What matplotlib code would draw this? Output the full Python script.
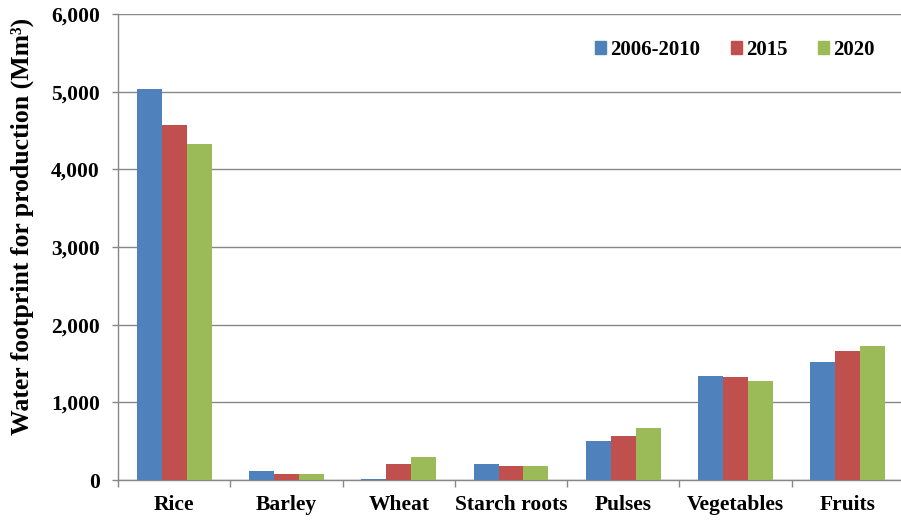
import matplotlib

matplotlib.use("Agg")
import matplotlib.pyplot as plt
import numpy as np
from matplotlib.patches import Patch
from matplotlib.ticker import FuncFormatter

crops = ["Rice", "Barley", "Wheat", "Starch roots", "Pulses", "Vegetables", "Fruits"]
periods = ["2006-2010", "2015", "2020"]
wf_2006_2010 = [5040, 118, 17, 205, 500, 1333, 1521]
wf_2015 = [4573, 83, 209, 179, 568, 1321, 1658]
wf_2020 = [4329, 83, 299, 179, 667, 1278, 1727]
colors = ["#4F81BD", "#C0504D", "#9BBB59"]

plt.rcParams["font.family"] = ["Liberation Serif", "DejaVu Serif"]
plt.rcParams["font.weight"] = "bold"

W, H = 901, 520
fig = plt.figure(figsize=(W / 100, H / 100), dpi=100)
ax = fig.add_axes([118 / W, 1 - 480 / H, (904 - 118) / W, (480 - 14) / H])

x = np.arange(len(crops))
width = 0.222
for i, (vals, c) in enumerate(zip([wf_2006_2010, wf_2015, wf_2020], colors)):
    ax.bar(x + (i - 1) * width, vals, width, color=c, zorder=3)

ax.set_xlim(-0.5, len(crops) - 0.5)
ax.set_ylim(0, 6000)
ax.set_yticks(np.arange(0, 6001, 1000))
ax.yaxis.set_major_formatter(FuncFormatter(lambda v, _: f"{v:,.0f}"))
ax.grid(axis="y", color="#878787", lw=1.0, zorder=0)

ax.set_xticks(x)
ax.set_xticklabels(crops)
ax.set_xticks(np.arange(-0.5, len(crops)), minor=True)
ax.tick_params(axis="x", which="major", length=0, pad=11, labelsize=15.5)
ax.tick_params(axis="x", which="minor", length=5, color="#878787", width=1)
ax.tick_params(axis="y", length=4, color="#878787", width=1, pad=9, labelsize=15.5)

for side in ["top", "right"]:
    ax.spines[side].set_visible(False)
for side in ["left", "bottom"]:
    ax.spines[side].set_color("#878787")
    ax.spines[side].set_linewidth(1.0)

fig.text(22 / W, 1 - 226 / H, "Water footprint for production (Mm³)",
         rotation=90, ha="center", va="center", fontsize=18.5, fontweight="bold")

handles = [Patch(color=c) for c in colors]
ax.legend(handles, periods, ncol=3, frameon=False, prop={"size": 15, "weight": "bold"},
          handlelength=0.55, handleheight=0.55, handletextpad=0.2, columnspacing=1.45,
          loc="center left", bbox_to_anchor=((576 - 118) / (904 - 118), (480 - 50) / 466))

fig.savefig("out.png", dpi=100)
